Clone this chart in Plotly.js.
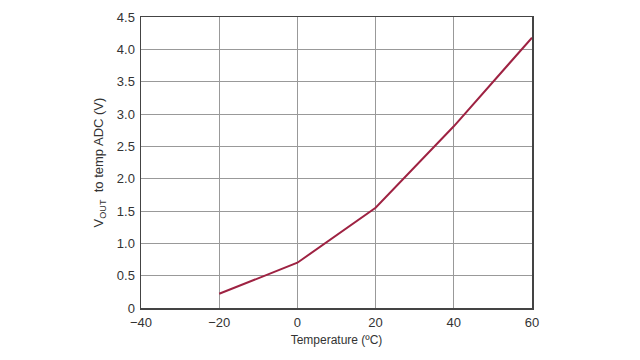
<!DOCTYPE html>
<html>
<head>
<meta charset="utf-8">
<script src="https://cdn.plot.ly/plotly-3.0.1.min.js"></script>
<style>html,body{margin:0;padding:0;background:#fff;}#chart{width:640px;height:360px;}</style>
</head>
<body>
<div id="chart"></div>
<script>
const temperatures = [-20, 0, 20, 40, 60];
const vout = [0.22, 0.70, 1.55, 2.81, 4.18];
const yTickVals = [0, 0.5, 1.0, 1.5, 2.0, 2.5, 3.0, 3.5, 4.0, 4.5];
const yTickText = ['0', '0.5', '1.0', '1.5', '2.0', '2.5', '3.0', '3.5', '4.0', '4.5'];
const xTickVals = [-40, -20, 0, 20, 40, 60];
const xTickText = ['\u221240', '\u221220', '0', '20', '40', '60'];

const fam = 'Liberation Sans, Arial, sans-serif';
const tickFont = {family: fam, size: 13, color: '#333'};

Plotly.newPlot('chart', [{
  x: temperatures, y: vout, type: 'scatter', mode: 'lines',
  line: {color: '#9e2242', width: 2}, hoverinfo: 'skip'
}], {
  width: 640, height: 360,
  margin: {l: 141, r: 108, t: 17, b: 52},
  paper_bgcolor: '#fff', plot_bgcolor: '#fff',
  showlegend: false,
  font: tickFont,
  xaxis: {
    range: [-40, 60], tickvals: xTickVals, ticktext: xTickText,
    showgrid: true, gridcolor: '#999', gridwidth: 1,
    showline: true, mirror: true, linecolor: '#444', linewidth: 1.5,
    zeroline: false, ticks: '', tickfont: tickFont, ticklabelstandoff: 2,
    title: {text: 'Temperature (\u00baC)', font: {family: fam, size: 12, color: '#333'}, standoff: 6},
    automargin: false
  },
  yaxis: {
    range: [0, 4.5], tickvals: yTickVals, ticktext: yTickText,
    showgrid: true, gridcolor: '#999', gridwidth: 1,
    showline: true, mirror: true, linecolor: '#444', linewidth: 1.5,
    zeroline: false, ticks: '', tickfont: tickFont, ticklabelstandoff: 2,
    title: {text: 'V<sub>OUT</sub>  to temp ADC (V)', font: {family: fam, size: 13, color: '#333'}, standoff: 10},
    automargin: false
  }
}, {staticPlot: true, displayModeBar: false});
</script>
</body>
</html>
